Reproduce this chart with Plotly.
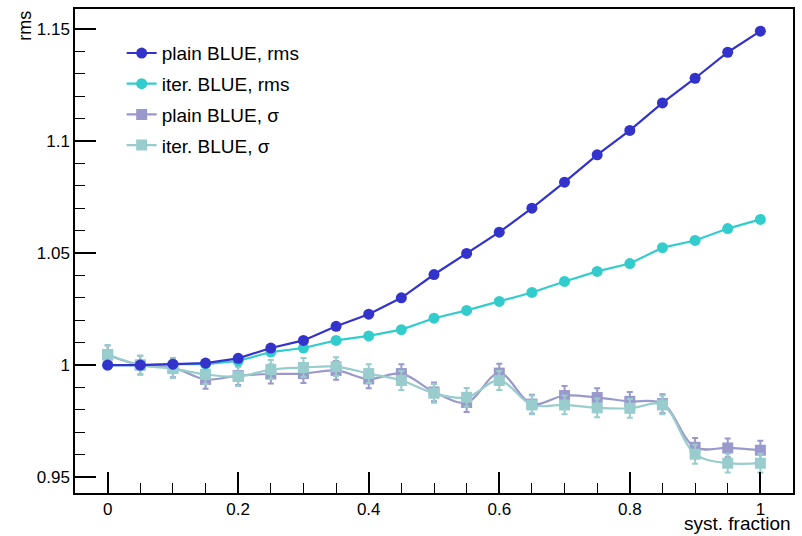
import plotly.graph_objects as go

x = [0, 0.05, 0.1, 0.15, 0.2, 0.25, 0.3, 0.35, 0.4, 0.45, 0.5,
     0.55, 0.6, 0.65, 0.7, 0.75, 0.8, 0.85, 0.9, 0.95, 1.0]

plain_rms = [1.000, 1.000, 1.0004, 1.0009, 1.003, 1.0076, 1.011, 1.0173, 1.0227, 1.030, 1.0404,
             1.0498, 1.0593, 1.070, 1.0816, 1.0938, 1.1047, 1.117, 1.128, 1.1396, 1.149]
iter_rms = [1.000, 1.000, 1.0004, 1.0004, 1.0018, 1.0058, 1.0076, 1.011, 1.0130, 1.0158, 1.0209,
            1.0244, 1.0284, 1.0324, 1.0373, 1.0418, 1.0453, 1.0524, 1.0556, 1.0609, 1.065]
plain_sig = [1.0045, 1.0000, 0.9988, 0.9936, 0.9953, 0.9960, 0.9962, 0.9976, 0.9938, 0.9962, 0.9880,
             0.9833, 0.9964, 0.9826, 0.9864, 0.9855, 0.9838, 0.9828, 0.9633, 0.9630, 0.9620]
iter_sig = [1.0047, 1.0000, 0.9984, 0.9958, 0.9949, 0.9980, 0.9989, 0.9993, 0.9962, 0.9931, 0.9874,
            0.9856, 0.9931, 0.9822, 0.9822, 0.9809, 0.9807, 0.9822, 0.9602, 0.9562, 0.9562]
sig_err = [0.0042] * 21

names = ["plain BLUE, rms", "iter. BLUE, rms", "plain BLUE, σ", "iter. BLUE, σ"]
colors = ["rgb(51,51,204)", "rgb(51,204,204)", "rgb(153,153,204)", "rgb(153,204,204)"]

xtick_vals = [0, 0.2, 0.4, 0.6, 0.8, 1.0]
xtick_text = ["0", "0.2", "0.4", "0.6", "0.8", "1"]
ytick_vals = [0.95, 1.0, 1.05, 1.1, 1.15]
ytick_text = ["0.95", "1", "1.05", "1.1", "1.15"]

fig = go.Figure()

fig.add_trace(go.Scatter(x=x, y=plain_sig, name=names[2], mode="lines+markers",
                         line=dict(color=colors[2], width=2.2, shape="spline"),
                         marker=dict(symbol="square", size=11, color=colors[2]),
                         error_y=dict(type="data", array=sig_err, color=colors[2], thickness=2, width=3),
                         legendrank=3, legendgroup="c"))
fig.add_trace(go.Scatter(x=x, y=iter_sig, name=names[3], mode="lines+markers",
                         line=dict(color=colors[3], width=2.2, shape="spline"),
                         marker=dict(symbol="square", size=11, color=colors[3]),
                         error_y=dict(type="data", array=sig_err, color=colors[3], thickness=2, width=3),
                         legendrank=4, legendgroup="d"))
fig.add_trace(go.Scatter(x=x, y=iter_rms, name=names[1], mode="lines+markers",
                         line=dict(color=colors[1], width=2.2),
                         marker=dict(symbol="circle", size=11, color=colors[1]),
                         legendrank=2, legendgroup="b"))
fig.add_trace(go.Scatter(x=x, y=plain_rms, name=names[0], mode="lines+markers",
                         line=dict(color=colors[0], width=2.2),
                         marker=dict(symbol="circle", size=11, color=colors[0]),
                         legendrank=1, legendgroup="a"))

font_family = "Liberation Sans, Arial, sans-serif"

fig.update_layout(
    width=802, height=536,
    margin=dict(l=75, r=9, t=7, b=43),
    plot_bgcolor="white", paper_bgcolor="white",
    font=dict(family=font_family, size=17, color="black"),
    showlegend=True,
    legend=dict(x=0.065, y=0.948, xanchor="left", yanchor="top",
                bgcolor="rgba(0,0,0,0)", font=dict(size=19),
                traceorder="grouped", tracegroupgap=3, itemwidth=30),
    xaxis=dict(range=[-0.05, 1.05], tickvals=xtick_vals, ticktext=xtick_text,
               ticks="inside", ticklen=21, tickwidth=1.5, tickcolor="black",
               showline=True, linecolor="black", linewidth=1.5, mirror=True,
               showgrid=False, zeroline=False,
               minor=dict(dtick=0.05, tick0=0, ticks="inside", ticklen=10, tickwidth=1, tickcolor="black"),
               tickfont=dict(size=17)),
    yaxis=dict(range=[0.9429, 1.1589], tickvals=ytick_vals, ticktext=ytick_text,
               ticks="inside", ticklen=21, tickwidth=1.5, tickcolor="black",
               showline=True, linecolor="black", linewidth=1.5, mirror=True,
               showgrid=False, zeroline=False,
               minor=dict(dtick=0.01, tick0=0.95, ticks="inside", ticklen=10, tickwidth=1, tickcolor="black"),
               tickfont=dict(size=17)),
    annotations=[
        dict(text="rms", xref="paper", yref="paper", x=-0.07, y=1.0, xanchor="center", yanchor="top",
             textangle=-90, showarrow=False, font=dict(size=18)),
        dict(text="syst. fraction", xref="paper", yref="paper", x=1.0, y=-0.089, xanchor="right", yanchor="bottom",
             showarrow=False, font=dict(size=19)),
    ],
)

fig.write_html("out.html")
